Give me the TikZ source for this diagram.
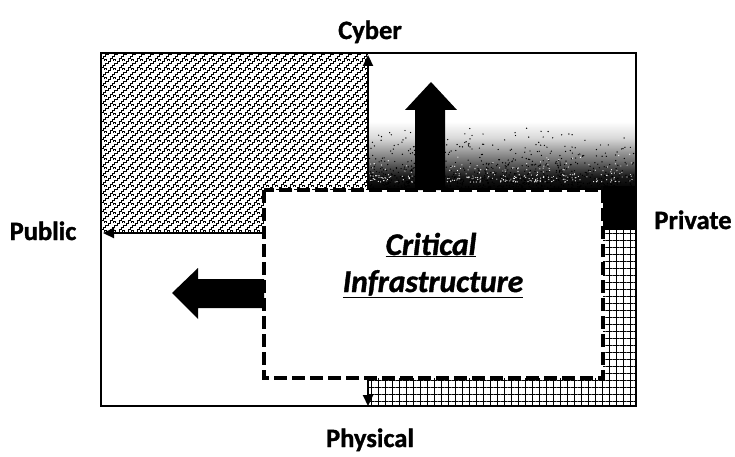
\documentclass[tikz,border=0pt]{standalone}
\usepackage{fontspec}
\setmainfont{Carlito}[BoldFeatures={FakeBold=1.2},BoldItalicFeatures={FakeBold=1.2}]
\usetikzlibrary{patterns,patterns.meta,arrows.meta}

% small diagonal squiggles for the upper-left quadrant
\pgfdeclarepatternformonly{squiggle}{\pgfqpoint{-1pt}{-1pt}}{\pgfqpoint{10pt}{10pt}}{\pgfqpoint{9pt}{9pt}}{
  \pgfsetlinewidth{0.7pt}
  \pgfpathmoveto{\pgfqpoint{0pt}{0pt}}
  \pgfpathlineto{\pgfqpoint{2.2pt}{0pt}}
  \pgfpathlineto{\pgfqpoint{2.2pt}{2.2pt}}
  \pgfpathlineto{\pgfqpoint{4.5pt}{2.2pt}}
  \pgfpathlineto{\pgfqpoint{4.5pt}{4.5pt}}
  \pgfpathlineto{\pgfqpoint{6.7pt}{4.5pt}}
  \pgfpathlineto{\pgfqpoint{6.7pt}{6.7pt}}
  \pgfpathlineto{\pgfqpoint{9pt}{6.7pt}}
  \pgfpathlineto{\pgfqpoint{9pt}{9pt}}
  \pgfpathmoveto{\pgfqpoint{5.2pt}{0.4pt}}
  \pgfpathlineto{\pgfqpoint{5.2pt}{1.8pt}}
  \pgfpathlineto{\pgfqpoint{7pt}{1.8pt}}
  \pgfpathlineto{\pgfqpoint{7pt}{0.4pt}}
  \pgfusepath{stroke}
}

% the visible band of a TikZ shading is 25bp..75bp
\pgfdeclareverticalshading{cyberfade}{100bp}{
  color(0bp)=(black); color(25bp)=(black); color(30bp)=(black!90);
  color(36bp)=(black!55); color(44bp)=(black!15); color(50bp)=(white);
  color(100bp)=(white)}

\tikzset{
  label text/.style={font=\bfseries\fontsize{26.5}{30}\selectfont, inner sep=0pt, anchor=base},
  ci text/.style={font=\bfseries\itshape\fontsize{31.5}{36}\selectfont, inner sep=0pt, anchor=base},
  frame/.style={line width=2.5pt, line join=miter},
  axis/.style={line width=2.2pt, -{Triangle[length=11pt,width=10pt]}},
  ci box/.style={line width=3.5pt, dash pattern=on 13pt off 5pt},
  big arrow/.style={fill=black},
  gridfill/.style={pattern={Lines[angle=0,distance=7pt,line width=0.8pt]}},
  gridfill2/.style={pattern={Lines[angle=90,distance=7pt,line width=0.8pt]}},
}

\begin{document}
\begin{tikzpicture}[x=1pt,y=-1pt]
\useasboundingbox (0,0) rectangle (735,457);

% corner points of the frame and of the critical-infrastructure box
\coordinate (tl) at (101,53);
\coordinate (br) at (636,406);
\coordinate (citl) at (264,190);
\coordinate (cibr) at (603,378);

% upper-left quadrant: public / cyber
\fill[pattern=squiggle] (101,53) -- (368,53) -- (368,190) -- (264,190) -- (264,233) -- (101,233) -- cycle;

% upper-right quadrant: private / cyber, fading into black
\shade[shading=cyberfade] (368,53) rectangle (636,190);
\pgfmathsetseed{7}
\foreach \i in {1,...,900}{
  \pgfmathsetmacro\px{369+265*rnd}
  \pgfmathsetmacro\py{190-65*rnd*rnd}
  \fill[black] (\px,\py) circle (0.7);
}
\pgfmathsetseed{11}
\foreach \i in {1,...,300}{
  \pgfmathsetmacro\px{369+265*rnd}
  \pgfmathsetmacro\py{182-30*rnd*rnd}
  \fill[white] (\px,\py) circle (0.6);
}
\fill[black] (603,186) rectangle (636,230);

% lower-right strip: private / physical
\fill[gridfill] (603,230) -- (636,230) -- (636,406) -- (368,406) -- (368,378) -- (603,378) -- cycle;
\fill[gridfill2] (603,230) -- (636,230) -- (636,406) -- (368,406) -- (368,378) -- (603,378) -- cycle;

% frame
\draw[frame] (tl) rectangle (br);

% axes
\coordinate (cyberend) at (368,55);
\coordinate (cyberstart) at (368,190);
\coordinate (publicend) at (103,233);
\coordinate (publicstart) at (264,233);
\coordinate (physstart) at (368,378);
\coordinate (physend) at (368,406);
\draw[axis] (cyberstart) -- (cyberend);
\draw[axis] (publicstart) -- (publicend);
\draw[axis] (physstart) -- (physend);

% critical infrastructure box
\fill[white] (citl) rectangle (cibr);
\draw[ci box] (citl) rectangle (cibr);

% thick arrows leaving the box
\fill[big arrow] (415,190) -- (415,110) -- (405,110) -- (431,82) -- (457,110) -- (445,110) -- (445,190) -- cycle;
\fill[big arrow] (264,279) -- (198,279) -- (198,268) -- (172,293) -- (198,319) -- (198,308) -- (264,308) -- cycle;

% labels
\node[label text] (cyber) at (370,39) {Cyber};
\node[label text] (public) at (43,240) {Public};
\node[label text] (private) at (693,229) {Private};
\node[label text] (physical) at (370,447) {Physical};
\node[ci text] (crit) at (431,255) {\underline{Critical}};
\node[ci text] (infra) at (433,292) {\underline{Infrastructure}};
\end{tikzpicture}
\end{document}
